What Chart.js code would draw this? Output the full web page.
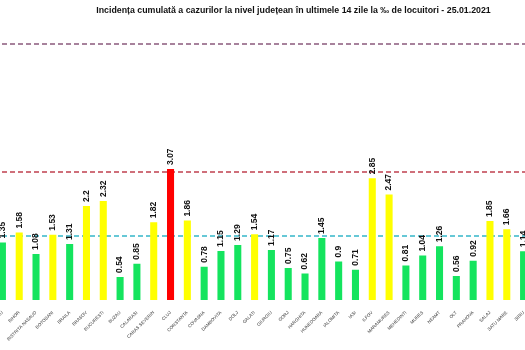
<!DOCTYPE html>
<html>
<head>
<meta charset="utf-8">
<script src="https://cdn.jsdelivr.net/npm/chart.js@4/dist/chart.umd.min.js"></script>
<style>
  html, body { margin: 0; padding: 0; background: #fff; overflow: hidden; }
  #wrap { position: absolute; left: -6px; top: 0; width: 599px; height: 350px; }
</style>
</head>
<body>
<div id="wrap"><canvas id="incidenceChart"></canvas></div>
<script>
// Counties visible in the picture (list is cropped on both sides)
const counties = ['BACAU', 'BIHOR', 'BISTRITA NASAUD', 'BOTOSANI', 'BRAILA', 'BRASOV', 'BUCURESTI',
  'BUZAU', 'CALARASI', 'CARAS SEVERIN', 'CLUJ', 'CONSTANTA', 'COVASNA', 'DAMBOVITA', 'DOLJ',
  'GALATI', 'GIURGIU', 'GORJ', 'HARGHITA', 'HUNEDOARA', 'IALOMITA', 'IASI', 'ILFOV',
  'MARAMURES', 'MEHEDINTI', 'MURES', 'NEAMT', 'OLT', 'PRAHOVA', 'SALAJ', 'SATU MARE', 'SIBIU'];

// Cumulative incidence per 1000 inhabitants
const incidence = [1.35, 1.58, 1.08, 1.53, 1.31, 2.2, 2.32,
  0.54, 0.85, 1.82, 3.07, 1.86, 0.78, 1.15, 1.29,
  1.54, 1.17, 0.75, 0.62, 1.45, 0.9, 0.71, 2.85,
  2.47, 0.81, 1.04, 1.26, 0.56, 0.92, 1.85, 1.66, 1.14];

// Threshold lines (per 1000)
const thresholds = [1.5, 3, 6];
const thresholdColors = ['#35b6c9', '#c0404f', '#8a5a7c'];

// green below 1.5, yellow up to 3, red above
function barColor(v) {
  if (v > 3) return '#ff0000';
  if (v >= 1.5) return '#ffff00';
  return '#14e45e';
}

// Dashed horizontal reference lines
const thresholdLines = {
  id: 'thresholdLines',
  beforeDatasetsDraw(chart) {
    const { ctx, chartArea, scales } = chart;
    ctx.save();
    ctx.lineWidth = 1.5;
    ctx.setLineDash([5, 3]);
    thresholds.forEach((t, i) => {
      const y = scales.y.getPixelForValue(t);
      ctx.strokeStyle = thresholdColors[i];
      ctx.beginPath();
      ctx.moveTo(chartArea.left, y);
      ctx.lineTo(chartArea.right, y);
      ctx.stroke();
    });
    ctx.restore();
  }
};

// Vertical value labels above each bar
const valueLabels = {
  id: 'valueLabels',
  afterDatasetsDraw(chart) {
    const { ctx } = chart;
    const meta = chart.getDatasetMeta(0);
    ctx.save();
    ctx.font = 'bold 8.5px "Liberation Sans", Arial, sans-serif';
    ctx.fillStyle = '#111';
    ctx.textAlign = 'left';
    ctx.textBaseline = 'middle';
    meta.data.forEach((bar, i) => {
      ctx.save();
      ctx.translate(bar.x, bar.y - 4);
      ctx.rotate(-Math.PI / 2);
      ctx.fillText(String(incidence[i]), 0, 0);
      ctx.restore();
    });
    ctx.restore();
  }
};

const ctx = document.getElementById('incidenceChart').getContext('2d');
const incidenceChart = new Chart(ctx, {
  type: 'bar',
  data: {
    labels: counties,
    datasets: [{
      data: incidence,
      backgroundColor: c => barColor(c.raw),
      borderWidth: 0,
      barPercentage: 0.42,
      categoryPercentage: 1
    }]
  },
  options: {
    responsive: true,
    maintainAspectRatio: false,
    animation: false,
    layout: { padding: 0 },
    plugins: {
      legend: { display: false },
      tooltip: { enabled: false },
      title: {
        display: true,
        text: 'Incidența cumulată a cazurilor la nivel județean în ultimele 14 zile la ‰ de locuitori - 25.01.2021',
        color: '#111',
        font: { family: '"Liberation Sans", Arial, sans-serif', size: 8.8, weight: 'bold' },
        padding: { top: 5, bottom: 7 }
      }
    },
    scales: {
      x: {
        grid: { display: false },
        border: { display: false },
        ticks: {
          autoSkip: false,
          minRotation: 45,
          maxRotation: 45,
          padding: 2,
          color: '#333',
          font: { family: '"Liberation Sans", Arial, sans-serif', size: 4.5 }
        },
        afterFit(axis) {
          axis.height = 50;
          axis.paddingLeft = 0;
          axis.paddingRight = 0;
        }
      },
      y: {
        position: 'right',
        min: 0,
        max: 6.5,
        grid: { display: false },
        border: { display: false },
        ticks: { display: false },
        // empty strip to the right, the source chart is cropped there
        afterFit(axis) {
          axis.width = 61;
        }
      }
    }
  },
  plugins: [thresholdLines, valueLabels]
});
</script>
</body>
</html>
